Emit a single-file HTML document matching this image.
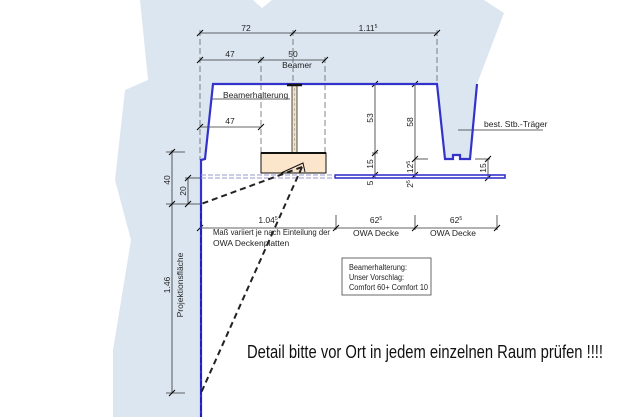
<!DOCTYPE html>
<html><head><meta charset="utf-8"><style>
html,body{margin:0;padding:0;background:#fff;}
svg{display:block;font-family:"Liberation Sans",sans-serif;}
</style></head><body>
<svg width="641" height="417" viewBox="0 0 641 417" xmlns="http://www.w3.org/2000/svg">
<polygon fill="#dce6f1" points="140,0 253,0 262,8 272,0 484,0 504,13 477,84 470,159 460,159 460,155 453,155 453,159 445,159 437,84 213,84 205,159 201,160 201,417 113,417 113,350 131,240 115,180 125,90 148,80"/>
<g stroke="#333" stroke-width="0.8" fill="none">
<line x1="200" y1="33" x2="437" y2="33"/>
<line x1="200" y1="60" x2="325" y2="60"/>
<line x1="200" y1="127" x2="261" y2="127"/>
<g stroke-dasharray="6,3" stroke="#666">
<line x1="200" y1="30" x2="200" y2="160"/>
<line x1="261" y1="57" x2="261" y2="153"/>
<line x1="325" y1="57" x2="325" y2="153"/>
<line x1="293" y1="30" x2="293" y2="84"/>
<line x1="437" y1="30" x2="437" y2="84"/>
</g>
<g stroke="#000" stroke-width="1">
<path d="M197,36l6,-6M290,36l6,-6M434,36l6,-6M197,63l6,-6M258,63l6,-6M322,63l6,-6M197,130l6,-6M258,130l6,-6"/>
</g>
<line x1="212" y1="99" x2="290" y2="99"/>
<line x1="375" y1="84" x2="375" y2="178"/>
<line x1="415" y1="84" x2="415" y2="178"/>
<line x1="488" y1="159" x2="488" y2="178"/>
<line x1="415" y1="159" x2="428" y2="159"/>
<line x1="475" y1="159" x2="490" y2="159"/>
<line x1="372" y1="153" x2="378" y2="153"/>
<g stroke="#000" stroke-width="1">
<path d="M372,87l6,-6M372,156l6,-6M372,178l6,-6M412,87l6,-6M412,162l6,-6M412,178l6,-6M485,162l6,-6M485,181l6,-6"/>
</g>
<line x1="458" y1="130" x2="543" y2="130"/>
<line x1="172" y1="150" x2="172" y2="393"/>
<line x1="188" y1="178" x2="188" y2="204"/>
<line x1="166" y1="152" x2="185" y2="152"/>
<line x1="166" y1="204" x2="200" y2="204"/>
<line x1="185" y1="178" x2="200" y2="178"/>
<line x1="166" y1="393" x2="185" y2="393"/>
<g stroke="#000" stroke-width="1">
<path d="M169,155l6,-6M169,207l6,-6M185,181l6,-6M185,207l6,-6M169,396l6,-6"/>
</g>
<line x1="200" y1="228" x2="497" y2="228"/>
<line x1="336" y1="215" x2="336" y2="230"/>
<line x1="415" y1="215" x2="415" y2="230"/>
<line x1="497" y1="215" x2="497" y2="230"/>
<g stroke="#000" stroke-width="1">
<path d="M197,231l6,-6M333,231l6,-6M412,231l6,-6M494,231l6,-6"/>
</g>
</g>
<polyline fill="none" stroke="#3333cc" stroke-width="2.2" points="201,417 201,160 205,159 213,84 437,84 445,159 453,159 453,155 460,155 460,159 470,159 477,84"/>
<rect x="335" y="175" width="170" height="3" fill="none" stroke="#3333cc" stroke-width="1.6"/>
<g stroke="#9999cc" stroke-width="1" stroke-dasharray="5,2">
<line x1="201" y1="175" x2="335" y2="175"/>
<line x1="201" y1="178" x2="335" y2="178"/>
</g>
<line x1="201" y1="205" x2="201" y2="417" stroke="#2222bb" stroke-width="2" stroke-dasharray="6,2"/>
<rect x="292" y="85" width="5" height="68" fill="#f5e3c8" stroke="#222" stroke-width="0.8"/>
<line x1="287" y1="85" x2="302" y2="85" stroke="#111" stroke-width="2.5"/>
<line x1="294.5" y1="88" x2="294.5" y2="150" stroke="#999" stroke-width="0.6" stroke-dasharray="3,2"/>
<rect x="261" y="153" width="65" height="20" fill="#fbe6cc" stroke="#111" stroke-width="1"/>
<line x1="261" y1="153" x2="326" y2="153" stroke="#111" stroke-width="2"/>
<polyline points="281,173 303,163 305,172" fill="none" stroke="#111" stroke-width="1"/>
<g stroke="#222" stroke-width="2" stroke-dasharray="6,4" fill="none">
<line x1="302" y1="167" x2="201" y2="204"/>
<line x1="302" y1="167" x2="201" y2="393"/>
</g>
<rect x="342" y="258" width="89" height="37" fill="#fff" stroke="#444" stroke-width="0.8"/>
<g font-size="8.5" fill="#222">
<text x="246" y="31" text-anchor="middle">72</text>
<text x="368" y="31" text-anchor="middle">1.11<tspan font-size="5" dy="-3">5</tspan></text>
<text x="230" y="57" text-anchor="middle">47</text>
<text x="293" y="57" text-anchor="middle">50</text>
<text x="297" y="68" text-anchor="middle">Beamer</text>
<text x="223" y="98">Beamerhalterung</text>
<text x="230" y="124" text-anchor="middle">47</text>
<text transform="translate(373,118) rotate(-90)" text-anchor="middle">53</text>
<text transform="translate(373,164) rotate(-90)" text-anchor="middle">15</text>
<text transform="translate(373,183) rotate(-90)" text-anchor="middle">5</text>
<text transform="translate(413,122) rotate(-90)" text-anchor="middle">58</text>
<text transform="translate(413,167) rotate(-90)" text-anchor="middle">12<tspan font-size="5" dy="-3">5</tspan></text>
<text transform="translate(413,184) rotate(-90)" text-anchor="middle">2<tspan font-size="5" dy="-3">5</tspan></text>
<text transform="translate(486,168) rotate(-90)" text-anchor="middle">15</text>
<text x="484" y="127">best. Stb.-Träger</text>
<text transform="translate(170,180) rotate(-90)" text-anchor="middle">40</text>
<text transform="translate(186,191) rotate(-90)" text-anchor="middle">20</text>
<text transform="translate(170,285) rotate(-90)" text-anchor="middle">1.46</text>
<text transform="translate(183,285) rotate(-90)" text-anchor="middle">Projektionsfläche</text>
<text x="268" y="223" text-anchor="middle">1.04<tspan font-size="5" dy="-3">5</tspan></text>
<text x="376" y="223" text-anchor="middle">62<tspan font-size="5" dy="-3">5</tspan></text>
<text x="456" y="223" text-anchor="middle">62<tspan font-size="5" dy="-3">5</tspan></text>
<text x="376" y="236" text-anchor="middle">OWA Decke</text>
<text x="453" y="236" text-anchor="middle">OWA Decke</text>
<text x="213" y="235" textLength="117" lengthAdjust="spacingAndGlyphs">Maß variiert je nach Einteilung der</text>
<text x="213" y="246">OWA Deckenplatten</text>
</g>
<g font-size="8" fill="#222">
<text x="349" y="270" textLength="58" lengthAdjust="spacingAndGlyphs">Beamerhalterung:</text>
<text x="349" y="280" textLength="55" lengthAdjust="spacingAndGlyphs">Unser Vorschlag:</text>
<text x="349" y="290" textLength="79" lengthAdjust="spacingAndGlyphs">Comfort 60+ Comfort 10</text>
</g>
<text x="247" y="358" font-size="18" fill="#111" textLength="356" lengthAdjust="spacingAndGlyphs">Detail bitte vor Ort in jedem einzelnen Raum prüfen !!!!</text>
</svg>
</body></html>
